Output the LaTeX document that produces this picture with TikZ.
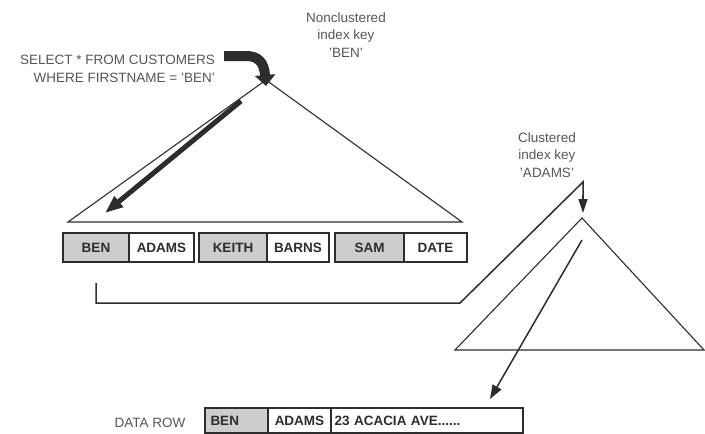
\documentclass[tikz,border=0pt]{standalone}
\usepackage{fontspec}
\setmainfont{Liberation Sans}
\usetikzlibrary{arrows.meta}
\definecolor{ink}{RGB}{45,45,45}
\definecolor{lbl}{RGB}{85,85,85}
\definecolor{keyfill}{RGB}{205,205,205}
\tikzset{
  cell/.style={draw=ink, line width=1.1pt, minimum height=29pt, inner sep=0pt, font=\fontsize{13.5}{15}\selectfont\bfseries, text=ink},
  keycell/.style={cell, fill=keyfill},
  lab/.style={align=center, text=lbl, font=\fontsize{13.5}{17.5}\selectfont, inner sep=0pt},
  tri/.style={draw=ink, line width=1.1pt, line join=miter},
  conn/.style={draw=ink, line width=1.5pt},
}
\begin{document}
\begin{tikzpicture}[x=1pt,y=-1pt]
\useasboundingbox (0,0) rectangle (705,434);
% triangles
\coordinate (t1a) at (266,80);
\coordinate (t1l) at (68,222);
\coordinate (t1r) at (462,222);
\draw[tri] (t1a) -- (t1l) -- (t1r) -- cycle;
\coordinate (t2a) at (582,218);
\coordinate (t2l) at (455,350);
\coordinate (t2r) at (704,350);
\draw[tri] (t2a) -- (t2l) -- (t2r) -- cycle;
% query text
\node[lab, align=right, anchor=east] (query) at (215,69) {SELECT * FROM CUSTOMERS\\WHERE FIRSTNAME = 'BEN'};
\node[lab] (nckey) at (346,35) {Nonclustered\\index key\\'BEN'};
\node[lab] (ckey) at (547,155) {Clustered\\index key\\'ADAMS'};
% thick curved arrow
\coordinate (qs) at (224,56);
\coordinate (qe) at (266,86);
\draw[ink, line width=10pt, -{Triangle[width=20pt,length=11pt]}] (qs) -- (246,56) .. controls (258,56) and (264,62) .. (qe);
% thick diagonal arrow
\coordinate (ds) at (241,101);
\coordinate (de) at (105,213);
\draw[ink, line width=5pt, -{Triangle[width=13pt,length=18pt]}] (ds) -- (de);
% index row
\node[keycell, minimum width=66pt] (ben1) at (96,247.5) {BEN};
\node[cell, minimum width=65pt] (adams1) at (161.5,247.5) {ADAMS};
\node[keycell, minimum width=68pt] (keith) at (233,247.5) {KEITH};
\node[cell, minimum width=62pt] (barns) at (298,247.5) {BARNS};
\node[keycell, minimum width=69pt] (sam) at (369.5,247.5) {SAM};
\node[cell, minimum width=63pt] (date) at (435.5,247.5) {DATE};
% connector to clustered index
\coordinate (c1) at (96,283);
\coordinate (c2) at (96,303);
\coordinate (c3) at (460,303);
\coordinate (c4) at (583,182);
\coordinate (c5) at (583,213);
\draw[conn, line join=miter] (c1) -- (c2) -- (c3) -- (c4) -- (583,196);
\draw[conn, -{Triangle[width=9pt,length=14pt]}] (583,195) -- (c5);
% clustered to data row
\coordinate (ks) at (582,240);
\coordinate (ke) at (490,399);
\draw[conn, -{Triangle[width=10pt,length=14pt]}] (ks) -- (ke);
% data row
\node[lab, anchor=center] (dlabel) at (150,423) {DATA ROW};
\node[keycell, minimum width=63pt, minimum height=25pt, text width=52pt, align=left] (ben2) at (236.5,420.5) {BEN};
\node[cell, minimum width=63pt, minimum height=25pt] (adams2) at (299.5,420.5) {ADAMS};
\node[cell, minimum width=192pt, minimum height=25pt, text width=185pt, align=left] (addr) at (427,420.5) {23 ACACIA AVE......};
\end{tikzpicture}
\end{document}
